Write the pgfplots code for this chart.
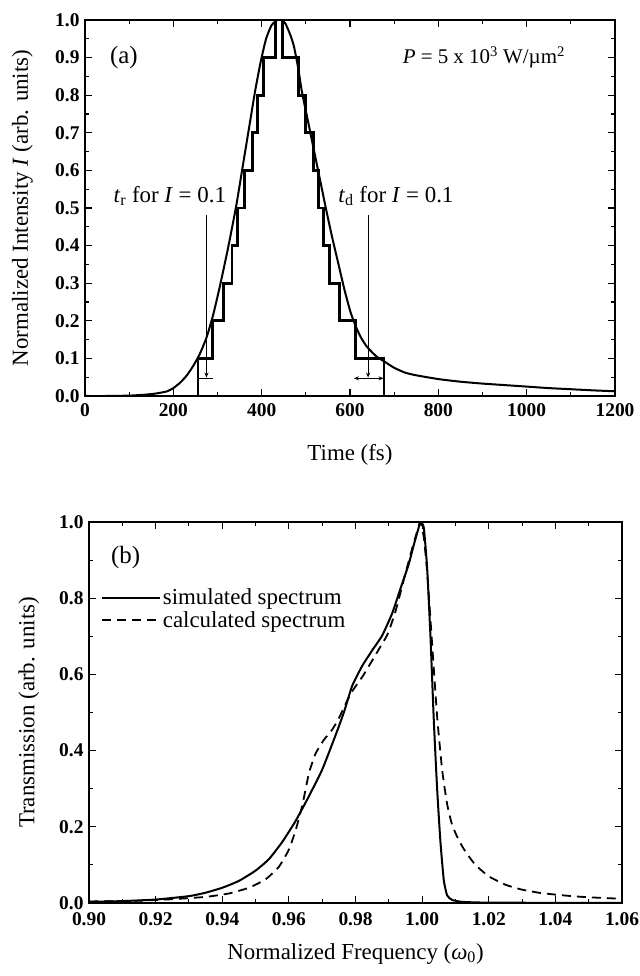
\documentclass[border=0pt]{standalone}
\usepackage{fontspec}
\setmainfont{Liberation Serif}
\usepackage{pgfplots}
\pgfplotsset{compat=1.18}
\usetikzlibrary{arrows.meta}
\begin{document}
\begin{tikzpicture}
\useasboundingbox (0bp,0bp) rectangle (640bp,976bp);
\pgfplotsset{
  myaxis/.style={
    scale only axis,
    anchor=south west,
    tick align=inside,
    xtick pos=both, ytick pos=both,
    major tick length=7bp, minor tick length=4bp,
    every tick/.style={line width=1.1bp, black},
    axis line style={line width=1.4bp},
    ticklabel style={font=\fontsize{19.5}{20}\selectfont\bfseries},
    yticklabel style={xshift=-2bp},
    /pgf/number format/assume math mode=true,
    label style={font=\fontsize{23}{26}\selectfont},
    scaled ticks=false,
    clip=true,
  }
}
% ---------------- panel (a) ----------------
\begin{axis}[myaxis,
  at={(85bp,580bp)}, width=530bp, height=376bp,
  xmin=0, xmax=1200, ymin=0, ymax=1,
  xtick={0,200,400,600,800,1000,1200}, minor x tick num=1,
  ytick={0,0.1,0.2,0.3,0.4,0.5,0.6,0.7,0.8,0.9,1.0}, minor y tick num=1,
  xticklabel style={yshift=-4bp, /pgf/number format/1000 sep={}},
  yticklabel style={/pgf/number format/.cd, fixed, fixed zerofill, precision=1},
  xlabel={Time (fs)},
  ylabel={Normalized Intensity \textit{I} (arb. units)},
  every axis x label/.append style={at={(axis description cs:0.5,-0.157)}, anchor=center},
  every axis y label/.append style={at={(axis description cs:-0.118,0.5)}, anchor=center},
]
\addplot[black, line width=2bp, smooth, tension=0.35] coordinates {
(0,0) (50,0) (100,0.001) (130,0.003) (157,0.006) (185,0.012) (200,0.021) (215,0.035)
(230,0.054) (245,0.080) (260,0.112) (275,0.155) (290,0.215) (306,0.295) (325,0.40)
(343,0.51) (357,0.61) (371,0.71) (385,0.81) (398,0.89) (410,0.95) (422,0.985)
(435,1.0) (445,1.0) (454,0.99) (465,0.96) (473,0.93) (483,0.87) (491,0.81)
(505,0.73) (519,0.65) (533,0.57) (547,0.49) (560,0.42) (574,0.35) (588,0.28)
(602,0.22) (615,0.18) (625,0.155) (639,0.13) (660,0.105) (680,0.09) (700,0.075)
(725,0.062) (750,0.055) (800,0.045) (850,0.038) (900,0.033) (950,0.029)
(1000,0.025) (1050,0.021) (1100,0.018) (1150,0.015) (1200,0.0125)
};
\addplot[black, line width=2.8bp, line join=miter] coordinates {
(256,0) (256,0.1) (289,0.1) (289,0.2) (313,0.2) (313,0.3) (333,0.3) (333,0.4)
(346,0.4) (346,0.5) (361,0.5) (361,0.6) (379,0.6) (379,0.7) (391,0.7) (391,0.8)
(405,0.8) (405,0.9) (431,0.9) (431,1.0) (448,1.0) (448,0.9) (483,0.9) (483,0.8)
(499,0.8) (499,0.7) (517,0.7) (517,0.6) (528,0.6) (528,0.5) (540,0.5) (540,0.4)
(554,0.4) (554,0.3) (577,0.3) (577,0.2) (612,0.2) (612,0.1) (677,0.1) (677,0)
};
\draw[line width=0.8bp, -{Stealth[length=5bp,width=4bp]}] (axis cs:275,0.482) -- (axis cs:275,0.049);
\draw[line width=0.8bp] (axis cs:258,0.047) -- (axis cs:290,0.047);
\draw[line width=0.8bp, -{Stealth[length=5bp,width=4bp]}] (axis cs:641,0.482) -- (axis cs:641,0.049);
\draw[line width=0.8bp, {Stealth[length=5bp,width=4bp]}-{Stealth[length=5bp,width=4bp]}] (axis cs:609,0.047) -- (axis cs:676,0.047);
\node[font=\fontsize{25}{25}\selectfont] at (axis cs:88,0.90) {(a)};
\node[font=\fontsize{21}{21}\selectfont] at (axis cs:903,0.90) {\textit{P} = 5 x 10\textsuperscript{3} W/µm\textsuperscript{2}};
\node[font=\fontsize{23}{23}\selectfont] at (axis cs:192,0.532) {\textit{t}\textsubscript{r} for \textit{I} = 0.1};
\node[font=\fontsize{23}{23}\selectfont] at (axis cs:704,0.532) {\textit{t}\textsubscript{d} for \textit{I} = 0.1};
\end{axis}
% ---------------- panel (b) ----------------
\begin{axis}[myaxis,
  at={(89bp,73bp)}, width=533bp, height=381bp,
  xmin=0.90, xmax=1.06, ymin=0, ymax=1,
  xtick={0.90,0.92,0.94,0.96,0.98,1.00,1.02,1.04,1.06}, minor x tick num=1,
  ytick={0,0.2,0.4,0.6,0.8,1.0}, minor y tick num=1,
  xticklabel style={yshift=-6bp, /pgf/number format/.cd, fixed, fixed zerofill, precision=2},
  yticklabel style={/pgf/number format/.cd, fixed, fixed zerofill, precision=1},
  xlabel={Normalized Frequency (\textit{ω}\textsubscript{0})},
  ylabel={Transmission (arb. units)},
  every axis x label/.append style={at={(axis description cs:0.5,-0.133)}, anchor=center},
  every axis y label/.append style={at={(axis description cs:-0.113,0.5)}, anchor=center},
  legend style={draw=none, fill=none, at={(axis cs:0.9035,0.83)}, anchor=north west,
    font=\fontsize{23}{23}\selectfont, cells={anchor=west}, row sep=1bp, inner sep=0pt},
  legend image code/.code={\draw[#1] (0bp,0bp) -- (58bp,0bp);},
]
\addplot[black, line width=2bp, smooth, tension=0.3] coordinates {
(0.900,0.003) (0.910,0.005) (0.920,0.009) (0.930,0.018) (0.935,0.027) (0.940,0.040)
(0.945,0.058) (0.950,0.085) (0.954,0.115) (0.958,0.160) (0.962,0.215) (0.966,0.280)
(0.970,0.350) (0.974,0.440) (0.9765,0.500) (0.979,0.570) (0.982,0.622) (0.985,0.663)
(0.988,0.702) (0.991,0.760) (0.9935,0.825) (0.996,0.890) (0.9975,0.940) (0.9988,0.980)
(0.9995,1.000) (1.0005,0.985) (1.0015,0.880) (1.0025,0.700) (1.0035,0.480)
(1.0045,0.300) (1.0055,0.160) (1.0065,0.060) (1.0075,0.020) (1.009,0.008)
(1.012,0.003) (1.020,0.001) (1.060,0.0)
};
\addlegendentry{simulated spectrum}
\addplot[black, line width=1.8bp, dash pattern=on 9bp off 6bp, smooth, tension=0.3] coordinates {
(0.900,0.004) (0.915,0.006) (0.925,0.010) (0.935,0.016) (0.942,0.025) (0.948,0.040)
(0.953,0.062) (0.957,0.095) (0.960,0.140) (0.962,0.190) (0.964,0.255) (0.966,0.340)
(0.968,0.392) (0.9705,0.428) (0.973,0.455) (0.975,0.485) (0.9786,0.550) (0.9823,0.597)
(0.986,0.651) (0.9896,0.705) (0.9921,0.768) (0.9945,0.849) (0.997,0.930)
(0.9988,0.984) (0.9995,1.000) (1.0005,0.960) (1.0015,0.870) (1.003,0.680)
(1.0045,0.490) (1.006,0.350) (1.0075,0.260) (1.009,0.205) (1.011,0.165) (1.013,0.135)
(1.016,0.100) (1.020,0.070) (1.025,0.048) (1.030,0.035) (1.035,0.027) (1.040,0.022)
(1.045,0.018) (1.050,0.015) (1.060,0.011)
};
\addlegendentry{calculated spectrum}
\node[font=\fontsize{25}{25}\selectfont] at (axis cs:0.911,0.906) {(b)};
\end{axis}
\end{tikzpicture}
\end{document}
